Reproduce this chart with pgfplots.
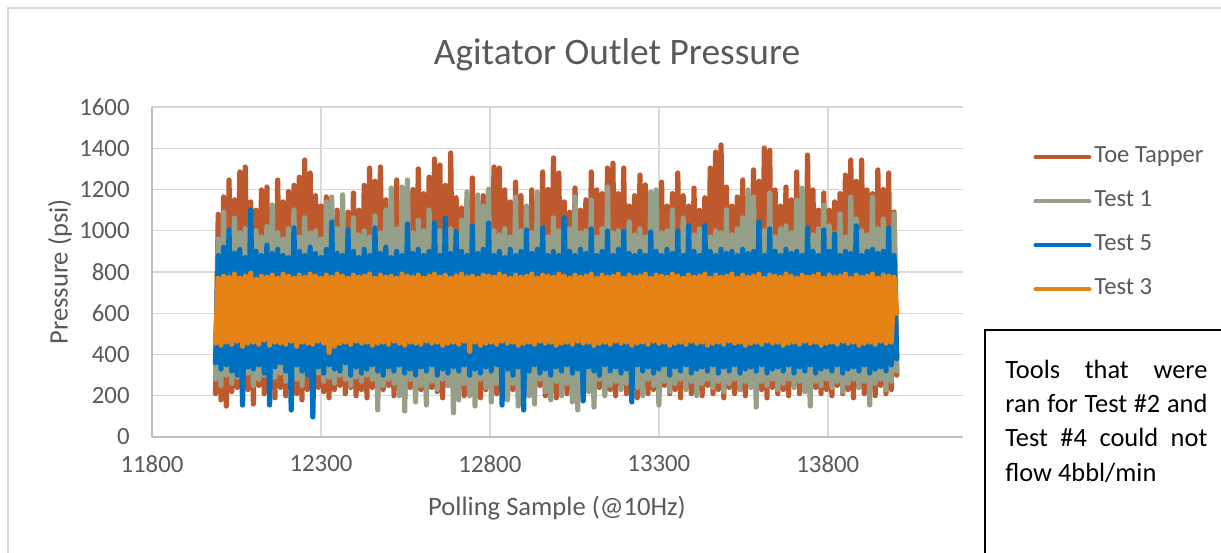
\documentclass[border=0pt]{standalone}
\usepackage{fontspec}
\setmainfont{Carlito}
\usepackage{pgfplots}
\usepackage{pgfplotstable}
\pgfplotsset{compat=1.18}
\definecolor{cTT}{RGB}{190,89,45}
\definecolor{cT1}{RGB}{150,160,136}
\definecolor{cT5}{RGB}{0,112,192}
\definecolor{cT3}{RGB}{229,131,22}
\definecolor{cGrid}{RGB}{217,217,217}
\definecolor{cAxis}{RGB}{191,191,191}
\definecolor{cText}{RGB}{89,89,89}
\pgfplotstableread{
x tt t1 t5 t3
11988 210 280 360 455
11996 1080 960 880 770
12004 180 250 330 445
12012 1164 1091 920 780
12020 150 300 350 460
12028 1246 1000 1004 775
12036 220 260 320 450
12044 1150 1062 890 790
12052 240 290 300 465
12060 1285 990 910 770
12068 200 270 155 440
12076 1309 1010 870 780
12084 230 310 340 455
12092 1140 960 1101 795
12100 160 250 330 460
12108 1100 1000 900 765
12116 250 280 350 450
12124 1198 970 880 780
12132 210 300 310 470
12140 1212 1020 930 775
12148 230 260 155 445
12156 1100 1125 890 785
12164 190 290 340 460
12172 1246 990 910 770
12180 240 310 360 455
12188 1140 960 880 790
12196 200 270 320 450
12204 1190 1010 870 780
12212 250 300 131 465
12220 1220 1101 1014 770
12228 210 280 350 440
12236 1260 970 900 785
12244 180 250 320 460
12252 1343 1062 880 775
12260 230 300 300 455
12268 1280 990 920 790
12276 200 280 97 450
12284 1170 1000 890 780
12292 240 310 340 465
12300 1120 960 870 770
12308 220 270 310 455
12316 1164 1140 910 785
12324 190 290 350 410
12332 1060 1164 1043 775
12340 230 260 330 440
12348 1100 1010 890 790
12356 250 300 320 455
12364 1050 1174 880 780
12372 210 280 360 460
12380 1090 990 1004 770
12388 240 250 300 450
12396 1183 1062 900 785
12404 200 290 340 465
12412 1100 980 870 775
12420 230 270 310 455
12428 1220 1000 910 780
12436 190 300 330 460
12444 1304 970 880 790
12452 240 280 350 445
12460 1240 1072 1014 770
12468 210 131 320 455
12476 1309 990 890 785
12484 230 250 300 460
12492 1150 1101 920 775
12500 250 280 340 450
12508 1100 1207 870 780
12516 200 260 320 465
12524 1246 1010 900 770
12532 230 200 350 455
12540 1120 1212 880 790
12548 190 126 310 445
12556 1160 1246 1033 780
12564 240 280 330 460
12572 1200 990 890 775
12580 210 170 300 455
12588 1300 1050 910 785
12596 230 250 340 450
12604 1180 1000 880 770
12612 200 155 320 465
12620 1260 1101 900 780
12628 240 270 350 455
12636 1348 980 1038 790
12644 220 230 300 460
12652 1319 1000 880 775
12660 190 280 330 445
12668 1220 970 1062 785
12676 250 250 310 455
12684 1377 1010 890 770
12692 210 117 340 460
12700 1160 990 994 780
12708 230 180 320 450
12716 1110 1050 900 790
12724 200 260 350 465
12732 1140 1188 880 775
12740 240 200 300 415
12748 1256 1000 1024 780
12756 210 150 330 460
12764 1130 1174 890 770
12772 190 280 310 445
12780 1170 1120 910 785
12788 230 240 340 455
12796 1200 1198 1038 780
12804 250 170 320 460
12812 1309 1000 880 775
12820 210 260 350 450
12828 1304 980 900 790
12836 240 230 155 465
12844 1198 1010 870 780
12852 200 180 330 455
12860 1140 970 910 770
12868 230 260 300 460
12876 1236 1164 880 785
12884 190 150 340 445
12892 1170 1000 900 775
12900 240 270 131 455
12908 1080 1120 1004 780
12916 210 200 320 460
12924 1198 990 890 790
12932 230 160 350 450
12940 1140 1188 910 770
12948 250 280 310 465
12956 1285 1010 1014 785
12964 200 220 330 455
12972 1200 970 880 780
12980 230 180 300 460
12988 1353 1062 900 775
12996 190 270 340 445
13004 1280 1000 880 790
13012 240 200 320 455
13020 1140 980 1062 780
13028 210 260 350 460
13036 1090 1010 900 770
13044 230 170 310 450
13052 1207 1164 880 785
13060 250 131 330 465
13068 1100 990 910 775
13076 200 250 175 455
13084 1150 1000 890 780
13092 230 220 340 460
13100 1285 1149 1009 790
13108 190 145 320 445
13116 1198 970 880 770
13124 240 280 300 455
13132 1180 1010 900 785
13140 210 200 350 460
13148 1304 1212 999 775
13156 230 250 320 450
13164 1328 990 880 780
13172 200 270 340 465
13180 1180 1000 910 790
13188 250 230 310 455
13196 1304 1000 999 770
13204 210 260 330 460
13212 1120 1043 890 785
13220 230 280 170 445
13228 1170 980 880 775
13236 190 240 350 455
13244 1270 1010 900 780
13252 240 200 320 460
13260 1222 970 880 790
13268 210 280 340 450
13276 1100 1188 994 770
13284 230 250 310 465
13292 1160 1198 900 785
13300 200 155 330 455
13308 1236 990 880 780
13316 250 270 350 460
13324 1120 1000 910 775
13332 210 220 300 445
13340 1180 1101 890 790
13348 230 260 340 455
13356 1280 970 999 780
13364 190 280 320 460
13372 1170 1062 880 770
13380 240 230 350 450
13388 1120 1000 1024 785
13396 210 270 310 465
13404 1207 980 900 775
13412 230 200 330 455
13420 1100 1010 880 780
13428 200 260 340 460
13436 1160 1014 1024 790
13444 250 280 320 445
13452 1304 970 900 770
13460 210 240 350 455
13468 1382 1000 880 785
13476 230 270 310 460
13484 1416 990 910 775
13492 190 220 340 450
13500 1212 1101 890 780
13508 240 260 320 465
13516 1120 980 900 790
13524 210 280 350 455
13532 1164 1010 880 770
13540 230 230 310 460
13548 1246 1062 910 785
13556 200 270 330 445
13564 1160 1198 890 775
13572 250 240 340 455
13580 1295 1164 900 780
13588 210 145 320 460
13596 1240 990 1043 790
13604 230 270 350 450
13612 1401 1000 880 770
13620 190 250 310 465
13628 1390 1183 1009 785
13636 240 280 330 455
13644 1198 970 900 780
13652 210 230 340 460
13660 1120 1010 880 775
13668 230 260 320 445
13676 1212 1024 910 790
13684 200 280 350 455
13692 1150 990 890 780
13700 250 240 310 460
13708 1285 1149 900 770
13716 210 270 340 450
13724 1180 1207 880 785
13732 230 220 320 465
13740 1367 1000 1014 775
13748 190 150 350 455
13756 1198 980 900 780
13764 240 270 310 460
13772 1100 1010 880 790
13780 210 250 330 445
13788 1183 1125 1004 770
13796 230 280 340 455
13804 1100 1024 900 785
13812 200 240 320 460
13820 1140 990 985 775
13828 250 270 350 450
13836 1180 1082 880 780
13844 210 220 310 465
13852 1270 970 900 790
13860 230 260 330 455
13868 1343 1164 890 770
13876 190 280 340 460
13884 1240 1057 1024 785
13892 240 240 320 445
13900 1343 1000 880 775
13908 210 270 350 455
13916 1198 980 900 780
13924 230 155 310 460
13932 1180 1164 910 790
13940 200 260 330 450
13948 1295 1010 890 770
13956 250 280 340 465
13964 1200 1057 900 785
13972 210 230 320 455
13980 1280 990 1014 780
13988 230 270 350 460
13996 1091 1082 880 775
14004 300 320 380 600
}\datatable

\begin{document}
\begin{tikzpicture}
\useasboundingbox (0,0) rectangle (610.5pt,-276pt);
\fill[white] (0,0) rectangle (610.5pt,-276pt);
\draw[cGrid, line width=0.6pt] (4pt,-4pt) rectangle (660pt,-330pt);
\begin{axis}[
  at={(76pt,-218.5pt)}, anchor=south west,
  scale only axis, width=405.5pt, height=165pt,
  xmin=11800, xmax=14200, ymin=0, ymax=1600,
  xtick={11800,12300,12800,13300,13800},
  ytick={0,200,400,600,800,1000,1200,1400,1600},
  scaled x ticks=false, scaled y ticks=false,
  grid=major,
  major grid style={cGrid, line width=0.7pt},
  axis x line*=bottom, axis y line*=left,
  axis line style={cAxis, line width=0.7pt, -},
  major tick length=0pt,
  tick label style={font=\fontsize{12.4}{14}\selectfont, text=cText},
  /pgf/number format/assume math mode=true,
  /pgf/number format/1000 sep={},
  xticklabel style={anchor=north, inner sep=0pt, yshift=-9pt},
  yticklabel style={anchor=east, inner sep=0pt, xshift=-11pt},
  title={Agitator Outlet Pressure},
  every axis title shift=0pt,
  title style={at={(axis description cs:0.5734,1.157)}, anchor=center, font=\fontsize{18.7}{21}\selectfont, text=cText},
  xlabel={Polling Sample (@10Hz)},
  xlabel style={at={(axis description cs:0.4994,-0.215)}, anchor=center, font=\fontsize{13.3}{15}\selectfont, text=cText},
  ylabel={Pressure (psi)},
  ylabel style={at={(axis description cs:-0.1134,0.5)}, anchor=center, font=\fontsize{13.3}{15}\selectfont, text=cText},
  legend cell align=left,
  legend image code/.code={\draw[#1, line width=2pt, line cap=round] (0pt,0pt) -- (27pt,0pt);},
  legend style={at={(axis description cs:1.079,0.894)}, anchor=north west, draw=none, fill=none,
    font=\fontsize{12.3}{14}\selectfont, text=cText, row sep=11pt,
    nodes={inner sep=0pt, text height=8pt, text depth=3pt},
    /tikz/every odd column/.append style={column sep=1.5pt}},
]
\addplot[cTT, line width=2.6pt, line join=round, line cap=round] table[x=x, y=tt] {\datatable};
\addplot[cT1, line width=2.6pt, line join=round, line cap=round] table[x=x, y=t1] {\datatable};
\addplot[cT5, line width=2.6pt, line join=round, line cap=round] table[x=x, y=t5] {\datatable};
\addplot[cT3, line width=2.6pt, line join=round, line cap=round] table[x=x, y=t3] {\datatable};
\legend{Toe Tapper, Test 1, Test 5, Test 3}
\end{axis}
\draw[black, line width=1pt, fill=white] (492.5pt,-165pt) rectangle (660pt,-330pt);
\node[anchor=base west, inner sep=0pt, text=black] at (502.5pt,-189pt)
  {\parbox[t]{101pt}{\fontsize{13.2}{17.2}\selectfont
   \makebox[101pt][s]{Tools that were}\\
   \makebox[101pt][s]{ran for Test \#2 and}\\
   \makebox[101pt][s]{Test \#4 could not}\\
   flow 4bbl/min}};
\end{tikzpicture}
\end{document}
